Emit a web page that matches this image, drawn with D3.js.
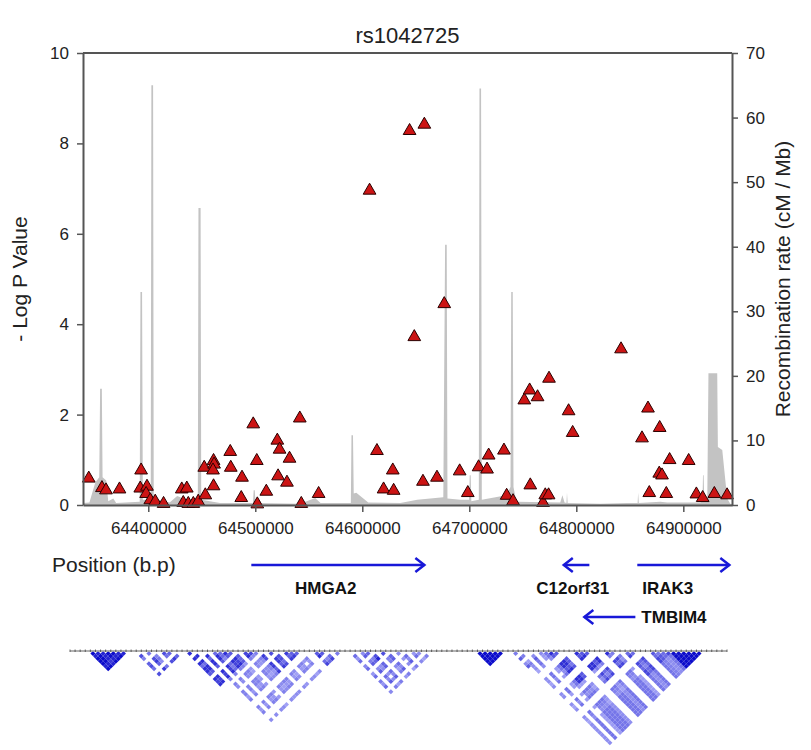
<!DOCTYPE html>
<html><head><meta charset="utf-8">
<script src="https://cdn.jsdelivr.net/npm/d3@7"></script>
<style>
body{margin:0;background:#fff;}
text{font-family:Arial,"Liberation Sans",sans-serif;}
</style>
</head><body>
<svg id="chart" width="811" height="750"></svg>
<script>
const chartTitle = "rs1042725";
const leftAxisTitle = "- Log P Value";
const rightAxisTitle = "Recombination rate (cM / Mb)";
const xAxisTitle = "Position (b.p)";

const snpPositions = [64344400,64356700,64360500,64373100,64393300,64392500,64398800,64398000,64401900,64406500,
  64414300,64431300,64436000,64432700,64437400,64442100,64446700,64453300,64452300,64461000,
  64461500,64460500,64461000,64476600,64477100,64487600,64486900,64498100,64501400,64501900,
  64510300,64520600,64522700,64521300,64529600,64532000,64541600,64543000,64559200,64606800,
  64613700,64619900,64628500,64629300,64644200,64648600,64658000,64656700,64669800,64676600,
  64691000,64698600,64708700,64716600,64718100,64732400,64734900,64740900,64751400,64756400,
  64763800,64757000,64768900,64771000,64774100,64774500,64792800,64796600,64841800,64861400,
  64867000,64868200,64877900,64877500,64880100,64884100,64887200,64905000,64912200,64918100,
  64929000,64940900];
const snpLogP = [0.61,0.40,0.35,0.37,0.79,0.39,0.43,0.27,0.13,0.10,
  0.05,0.37,0.39,0.07,0.05,0.05,0.10,0.24,0.85,1.00,
  0.92,0.79,0.44,1.20,0.85,0.63,0.18,1.81,1.00,0.04,
  0.32,1.45,1.25,0.66,0.52,1.05,1.94,0.05,0.27,6.98,
  1.22,0.37,0.79,0.34,8.30,3.74,8.44,0.54,0.63,4.47,
  0.77,0.29,0.86,0.81,1.12,1.23,0.23,0.11,2.34,2.56,
  2.41,0.46,0.07,0.24,0.24,2.82,2.10,1.62,3.47,1.50,
  2.16,0.29,1.73,0.72,0.68,0.27,1.02,1.00,0.26,0.18,
  0.27,0.24];

const recPositions = [64339000,64345000,64350500,64354200,64355000,64356600,64357300,64360700,64362600,64367300,
  64370000,64392000,64392700,64394200,64394900,64402300,64402900,64404500,64405100,64420000,
  64427000,64430000,64433000,64446300,64446900,64448900,64449500,64467000,64497800,64498500,
  64499500,64500300,64542000,64556000,64561000,64589300,64589900,64591300,64592000,64594400,
  64605600,64635500,64651400,64675700,64677400,64678900,64679600,64691600,64699800,64700400,
  64701300,64701900,64708900,64709500,64711000,64711700,64734600,64738500,64739200,64740600,
  64741300,64743900,64785000,64787000,64789000,64790800,64791300,64791900,64822400,64847700,
  64857300,64857800,64858400,64878500,64885000,64915800,64917900,64918400,64919000,64919600,
  64922400,64923500,64931700,64932300,64936400,64941000,64943900,64945500];
const recRates = [0.3,0.4,3.5,4.3,18,18,4.3,3.8,0.6,1.0,
  0.3,0.5,33,33,0.8,0.8,65,65,1.0,0.4,
  1.4,1.2,0.4,0.6,46,46,0.8,0.3,0.3,2.3,
  2.3,0.3,0.2,1.1,0.3,0.3,10.8,10.8,1.8,1.9,
  0.4,0.3,0.8,1.2,40.3,40.3,1.0,0.8,0.8,4.6,
  4.6,0.6,0.8,64.5,64.5,0.8,1.5,2.8,33,33,
  2.8,0.5,0.4,1.5,0.4,0.3,1.9,0.3,0.2,0.3,
  0.3,1.9,0.3,0.5,0.4,0.4,0.6,4.6,4.6,0.8,
  0.8,20.4,20.4,9.0,8.5,1.0,0.2,0.1];

const xTickValues = [64400000,64500000,64600000,64700000,64800000,64900000];
const leftTickValues = [0,2,4,6,8,10];
const rightTickValues = [0,10,20,30,40,50,60,70];

const geneNames = ["HMGA2","C12orf31","IRAK3","TMBIM4"];
const geneStarts = [64496300,64788300,64857000,64807500];
const geneEnds = [64658000,64812200,64943000,64855200];
const geneStrands = [1,-1,1,-1];
const geneRows = [0,0,0,1];
const geneLabelSide = ["below","below","below","right"];
const geneLabelFrac = [0.43,0.35,0.33,1];

const ldMarkerCount = 130;
const ldBlocks = [[4,11,0.95],[13,22,0.75],[23,36,0.8],[37,45,0.75],[26,54,0.45],[48,53,0.8],
  [55,71,0.6],[58,64,0.85],[80,85,0.95],[86,93,0.6],[88,124,0.5],[94,106,0.8],[100,112,0.7],
  [108,118,0.7],[118,124,0.95]];
const ldWeights = "1211"+"99899989"+"1"+"8396089739"+"99390969973989"+"939809979"+"23"+"979368"+"1"+
  "83969079369086937"+"21402130"+"999999"+"39709369"+"997309979039960979309879"+"9999999"+"31201";

// ---------- layout ----------
const plot = {left:83, right:732, top:53, bottom:505};
const svg = d3.select("#chart");

const x = d3.scaleLinear().domain([64339000,64945500]).range([plot.left, plot.right]);
const yL = d3.scaleLinear().domain([0,10]).range([plot.bottom, plot.top]);
const yR = d3.scaleLinear().domain([0,70]).range([plot.bottom, plot.top]);

svg.append("text").attr("x",(plot.left+plot.right)/2).attr("y",43)
  .attr("text-anchor","middle").attr("font-size",22).attr("fill","#222").text(chartTitle);

// recombination area
const recData = recPositions.map((p,i)=>({p, r:recRates[i]}));
svg.append("path").datum(recData)
  .attr("fill","#c3c3c3")
  .attr("d", d3.area().x(d=>x(d.p)).y0(yR(0)).y1(d=>yR(d.r)));

// SNP triangles
const snpData = snpPositions.map((p,i)=>({p, v:snpLogP[i]}));
svg.append("g").selectAll("path").data(snpData).enter().append("path")
  .attr("transform", d=>`translate(${x(d.p)},${yL(d.v)+1})`)
  .attr("d", d3.symbol().type(d3.symbolTriangle).size(70))
  .attr("fill","#cc1414").attr("stroke","#2a0000").attr("stroke-width",1);

// axes
const axisColor = "#555";
function styleAxis(g){
  g.selectAll(".domain").attr("stroke",axisColor).attr("stroke-width",2);
  g.selectAll(".tick line").attr("stroke",axisColor).attr("stroke-width",1.5);
  g.selectAll(".tick text").attr("fill","#222").attr("font-size",17)
    .attr("font-family","Arial, 'Liberation Sans', sans-serif");
}
svg.append("g").attr("transform",`translate(${plot.left},0)`)
  .call(d3.axisLeft(yL).tickValues(leftTickValues).tickSize(6).tickSizeOuter(0).tickPadding(8))
  .call(styleAxis);
svg.append("g").attr("transform",`translate(${plot.right},0)`)
  .call(d3.axisRight(yR).tickValues(rightTickValues).tickSize(6).tickSizeOuter(0).tickPadding(8))
  .call(styleAxis);
svg.append("g").attr("transform",`translate(0,${plot.bottom})`)
  .call(d3.axisBottom(x).tickValues(xTickValues).tickFormat(d3.format("d")).tickSize(7).tickSizeOuter(0).tickPadding(10))
  .call(styleAxis);
svg.append("line").attr("x1",plot.left).attr("x2",plot.right).attr("y1",plot.top).attr("y2",plot.top)
  .attr("stroke",axisColor).attr("stroke-width",2);

// axis titles
svg.append("text").attr("transform",`translate(27,${(plot.top+plot.bottom)/2}) rotate(-90)`)
  .attr("text-anchor","middle").attr("font-size",21).attr("fill","#222").text(leftAxisTitle);
svg.append("text").attr("transform",`translate(790,${(plot.top+plot.bottom)/2}) rotate(-90)`)
  .attr("text-anchor","middle").attr("font-size",21).attr("fill","#222").text(rightAxisTitle);
svg.append("text").attr("x",52).attr("y",572).attr("font-size",21).attr("fill","#222").text(xAxisTitle);

// genes
const geneColor = "#1818d8";
const rowY = [565, 617];
geneNames.forEach((name,i)=>{
  const x1 = x(geneStarts[i]), x2 = x(geneEnds[i]), y = rowY[geneRows[i]];
  const head = geneStrands[i] > 0 ? x2 : x1;
  const dir = geneStrands[i] > 0 ? -1 : 1;
  svg.append("line").attr("x1",x1).attr("x2",x2).attr("y1",y).attr("y2",y)
    .attr("stroke",geneColor).attr("stroke-width",2.5);
  svg.append("path").attr("d",`M${head+dir*9},${y-7} L${head},${y} L${head+dir*9},${y+7}`)
    .attr("fill","none").attr("stroke",geneColor).attr("stroke-width",2.5);
  if (geneLabelSide[i] === "below") {
    svg.append("text").attr("x",x1+(x2-x1)*geneLabelFrac[i]).attr("y",y+29).attr("text-anchor","middle")
      .attr("font-size",17).attr("font-weight","bold").attr("fill","#111").text(name);
  } else {
    svg.append("text").attr("x",x2+6).attr("y",y+6)
      .attr("font-size",17).attr("font-weight","bold").attr("fill","#111").text(name);
  }
});

// LD heatmap
const ld = {left:70, right:727, top:651};
const mx = d3.scaleLinear().domain([0, ldMarkerCount-1]).range([ld.left, ld.right]);
const half = (ld.right-ld.left)/(ldMarkerCount-1)/2;
const cells = new Map();
ldBlocks.forEach(([s,e,str])=>{
  for (let i=s;i<=e;i++) for (let j=i+1;j<=e;j++){
    const v = str * (+ldWeights[i]/9) * (+ldWeights[j]/9);
    const k = i*1000+j;
    if (!cells.has(k) || cells.get(k).v < v) cells.set(k,{i,j,v});
  }
});
const ldColor = d3.scaleLinear().domain([0.3,1]).range(["#a4a4f6","#0000c8"]).clamp(true);
const cellData = Array.from(cells.values()).filter(c=>c.v>0.3);
svg.append("g").selectAll("path").data(cellData).enter().append("path")
  .attr("d", c=>{
    const cx = (mx(c.i)+mx(c.j))/2, cy = ld.top + (mx(c.j)-mx(c.i))/2;
    return `M${cx},${cy-half}L${cx+half},${cy}L${cx},${cy+half}L${cx-half},${cy}Z`;
  })
  .attr("fill", c=>ldColor(c.v));
svg.append("line").attr("x1",ld.left).attr("x2",ld.right).attr("y1",ld.top).attr("y2",ld.top)
  .attr("stroke","#999").attr("stroke-width",1.5);
svg.append("g").selectAll("line").data(d3.range(ldMarkerCount)).enter().append("line")
  .attr("x1",d=>mx(d)).attr("x2",d=>mx(d)).attr("y1",ld.top-1.5).attr("y2",ld.top+1)
  .attr("stroke","#444").attr("stroke-width",0.8);
</script>
</body></html>
